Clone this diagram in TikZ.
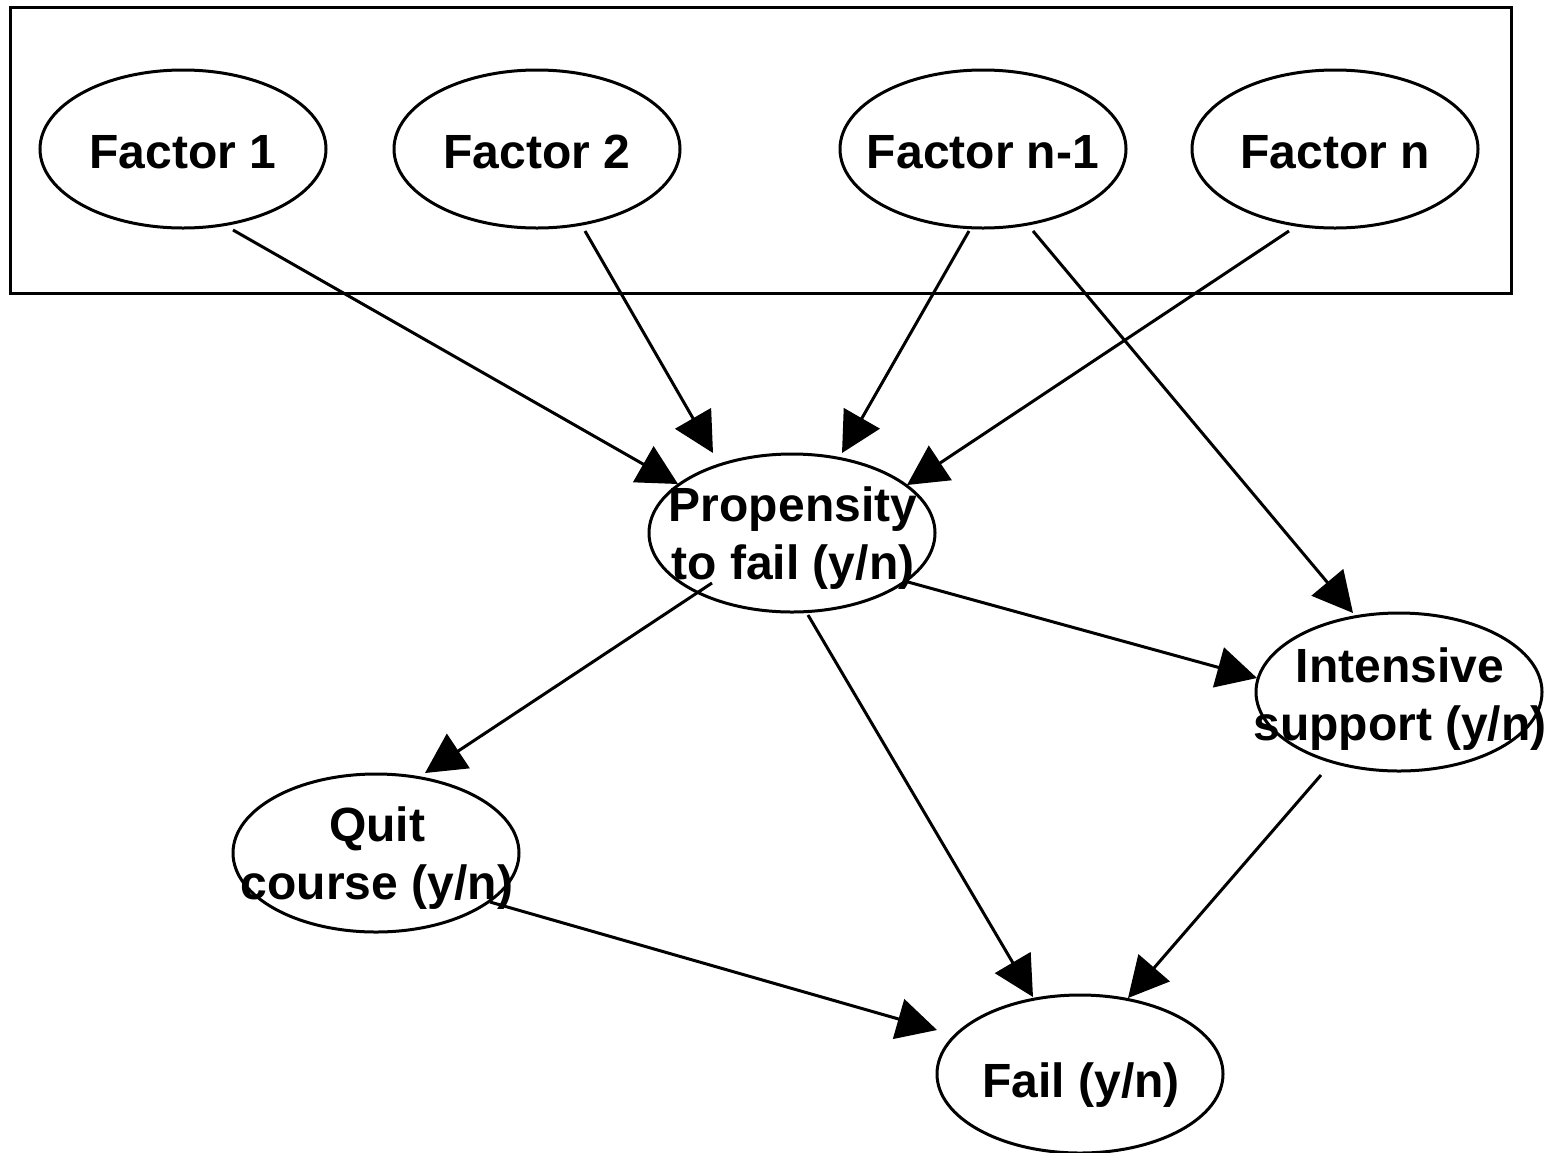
\documentclass[tikz,border=0pt]{standalone}
\usepackage{fontspec}
\setmainfont{Liberation Sans}
\usetikzlibrary{shapes.geometric,arrows.meta}
\begin{document}
\begin{tikzpicture}[x=1pt,y=-1pt,
  ell/.style={draw, line width=3pt, ellipse, minimum width=286pt, minimum height=158pt, inner sep=0pt},
  lbl/.style={font=\fontsize{48}{58}\selectfont\bfseries, align=center, inner sep=0pt},
  arr/.style={line width=3pt, -{Triangle[length=40pt,width=41pt]}},
  frame/.style={draw, line width=3pt}]
\useasboundingbox (0,0) rectangle (1560,1152);
\node[frame, minimum width=1501pt, minimum height=286pt, inner sep=0pt, anchor=north west] (box) at (9,6) {};

\node[ell] (f1)   at (183,149) {};
\node[ell] (f2)   at (537,149) {};
\node[ell] (fn1)  at (983,149) {};
\node[ell] (fn)   at (1335,149) {};
\node[ell] (prop) at (792,533) {};
\node[ell] (int)  at (1399,692) {};
\node[ell] (quit) at (376,853) {};
\node[ell] (fail) at (1080,1074) {};

\node[lbl, anchor=base] (t1)   at (183,168) {Factor 1};
\node[lbl, anchor=base] (t2)   at (537,168) {Factor 2};
\node[lbl, anchor=base] (tn1)  at (983,168) {Factor n-1};
\node[lbl, anchor=base] (tn)   at (1335,168) {Factor n};
\node[lbl] (tprop) at (793,538) {Propensity\\to fail (y/n)};
\node[lbl] (tint)  at (1400,699) {Intensive\\support (y/n)};
\node[lbl] (tquit) at (377,858) {Quit\\course (y/n)};
\node[lbl, anchor=base] (tfail) at (1081,1097) {Fail (y/n)};

\draw[arr] ([shift={(50,81)}]f1.center)   -- ([shift={(-114,-49)}]prop.center);
\draw[arr] ([shift={(48,82)}]f2.center)   -- ([shift={(-79,-80)}]prop.center);
\draw[arr] ([shift={(-14,82)}]fn1.center) -- ([shift={(50,-80)}]prop.center);
\draw[arr] ([shift={(-46,82)}]fn.center)  -- ([shift={(115,-48)}]prop.center);
\draw[arr] ([shift={(50,82)}]fn1.center)  -- ([shift={(-46,-79)}]int.center);
\draw[arr] ([shift={(-80,50)}]prop.center) -- ([shift={(49,-80)}]quit.center);
\draw[arr] ([shift={(16,82)}]prop.center)  -- ([shift={(-47,-77)}]fail.center);
\draw[arr] ([shift={(116,49)}]prop.center) -- ([shift={(-142,-14)}]int.center);
\draw[arr] ([shift={(-78,83)}]int.center)  -- ([shift={(48,-76)}]fail.center);
\draw[arr] ([shift={(114,49)}]quit.center) -- ([shift={(-143,-44)}]fail.center);
\end{tikzpicture}
\end{document}
